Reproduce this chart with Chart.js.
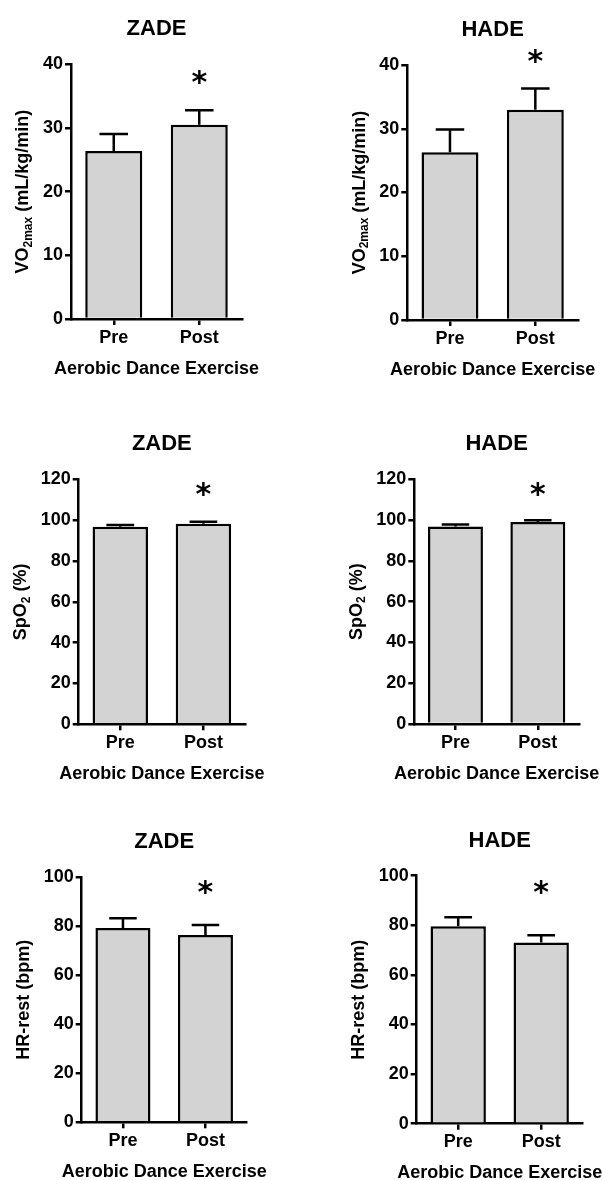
<!DOCTYPE html>
<html>
<head>
<meta charset="utf-8">
<title>Aerobic dance exercise</title>
<script src="https://cdn.jsdelivr.net/npm/chart.js@4.4.1/dist/chart.umd.min.js"></script>
<style>
  body { margin: 0; background: #fff; }
  canvas { position: absolute; }
</style>
</head>
<body>
<canvas id="c0"></canvas>
<canvas id="c1"></canvas>
<canvas id="c2"></canvas>
<canvas id="c3"></canvas>
<canvas id="c4"></canvas>
<canvas id="c5"></canvas>
<script>
// categories
const groups = ["Pre", "Post"];
const xTitle = "Aerobic Dance Exercise";

// means and SD (upper error bar only)
const vo2Zade = [26.4, 30.5];
const vo2ZadeSd = [2.65, 2.3];
const vo2Hade = [26.3, 33.0];
const vo2HadeSd = [3.6, 3.3];
const spo2Zade = [96.7, 98.2];
const spo2ZadeSd = [0.9, 1.0];
const spo2Hade = [96.8, 99.0];
const spo2HadeSd = [1.0, 0.9];
const hrZade = [79.3, 76.4];
const hrZadeSd = [4.0, 4.1];
const hrHade = [79.6, 73.1];
const hrHadeSd = [3.6, 2.9];

// y axes
const yMax = [40, 40, 120, 120, 100, 100];
const yStep = [10, 10, 20, 20, 20, 20];

// where the significance star sits (in axis units), over the Post bar
const starLevel = [38.0, 41.3, 114.8, 114.8, 95.9, 95.3];

const panels = [
  { title: "ZADE", means: vo2Zade, sds: vo2ZadeSd, yLabel: ["VO", "2max", " (mL/kg/min)"] },
  { title: "HADE", means: vo2Hade, sds: vo2HadeSd, yLabel: ["VO", "2max", " (mL/kg/min)"] },
  { title: "ZADE", means: spo2Zade, sds: spo2ZadeSd, yLabel: ["SpO", "2", " (%)"] },
  { title: "HADE", means: spo2Hade, sds: spo2HadeSd, yLabel: ["SpO", "2", " (%)"] },
  { title: "ZADE", means: hrZade, sds: hrZadeSd, yLabel: ["HR-rest (bpm)", "", ""] },
  { title: "HADE", means: hrHade, sds: hrHadeSd, yLabel: ["HR-rest (bpm)", "", ""] },
];

// canvas placement and plot area [left, top, right, bottom] inside each canvas
const boxes = [
  { left: 0, top: 0, w: 300, h: 395, area: [71, 64.3, 242, 319] },
  { left: 300, top: 0, w: 303, h: 395, area: [107.3, 65, 278, 320] },
  { left: 0, top: 400, w: 300, h: 390, area: [78.7, 79.3, 245, 324.3] },
  { left: 300, top: 400, w: 303, h: 390, area: [114.3, 79.3, 279, 324] },
  { left: 0, top: 790, w: 300, h: 390, area: [81.7, 87.3, 246.7, 332.3] },
  { left: 300, top: 790, w: 303, h: 390, area: [116.7, 85.7, 282.7, 333.7] },
];

const FONT = "'Liberation Sans', Arial, sans-serif";
const LINE = 2.5;

function centeredText(ctx, text, x, y) {
  const m = ctx.measureText(text);
  ctx.fillText(text, x, y + (m.actualBoundingBoxAscent - m.actualBoundingBoxDescent) / 2);
}

// error bars, star, and the titles
const annotate = {
  id: "annotate",
  afterDatasetsDraw(chart, args, opts) {
    const ctx = chart.ctx;
    const ys = chart.scales.y;
    const bars = chart.getDatasetMeta(0).data;
    ctx.save();
    ctx.strokeStyle = "#000";
    ctx.lineWidth = LINE;
    bars.forEach((bar, i) => {
      const top = ys.getPixelForValue(opts.means[i] + opts.sds[i]);
      const half = bar.width / 4;
      ctx.beginPath();
      ctx.moveTo(bar.x, bar.y);
      ctx.lineTo(bar.x, top);
      ctx.moveTo(bar.x - half, top);
      ctx.lineTo(bar.x + half, top);
      ctx.stroke();
    });
    // star above Post
    ctx.fillStyle = "#000";
    ctx.textAlign = "center";
    ctx.font = "bold 30px 'DejaVu Sans', sans-serif";
    centeredText(ctx, "*", bars[1].x, ys.getPixelForValue(opts.star));
    ctx.restore();
  },
  afterDraw(chart, args, opts) {
    const ctx = chart.ctx;
    const a = chart.chartArea;
    const cx = (a.left + a.right) / 2;
    ctx.save();
    ctx.fillStyle = "#000";
    ctx.textAlign = "center";

    ctx.font = "bold 22px " + FONT;
    centeredText(ctx, opts.title, cx, a.top - 36.5);

    ctx.font = "bold 18px " + FONT;
    centeredText(ctx, xTitle, cx, a.bottom + 48);

    // y title, rotated, with subscript
    const widest = String(chart.scales.y.max);
    const labelW = ctx.measureText(widest).width;
    const tx = a.left - 8 - labelW - 21;
    const ty = (a.top + a.bottom) / 2;
    const [main, sub, rest] = opts.yLabel;
    const mainFont = "bold 18px " + FONT;
    const subFont = "bold 12px " + FONT;
    ctx.font = mainFont;
    const w1 = ctx.measureText(main).width;
    const w3 = ctx.measureText(rest).width;
    ctx.font = subFont;
    const w2 = ctx.measureText(sub).width;
    const total = w1 + w2 + w3;
    ctx.translate(tx, ty);
    ctx.rotate(-Math.PI / 2);
    ctx.textAlign = "left";
    ctx.textBaseline = "alphabetic";
    const base = 6.4;
    let x = -total / 2;
    ctx.font = mainFont;
    ctx.fillText(main, x, base);
    x += w1;
    ctx.font = subFont;
    ctx.fillText(sub, x, base + 3.5);
    x += w2;
    ctx.font = mainFont;
    ctx.fillText(rest, x, base);
    ctx.restore();
  }
};

panels.forEach((p, i) => {
  const b = boxes[i];
  const canvas = document.getElementById("c" + i);
  canvas.width = b.w;
  canvas.height = b.h;
  canvas.style.left = b.left + "px";
  canvas.style.top = b.top + "px";
  const [aL, aT, aR, aB] = b.area;

  new Chart(canvas, {
    type: "bar",
    data: {
      labels: groups,
      datasets: [{
        data: p.means,
        backgroundColor: "#d3d3d3",
        borderColor: "#000",
        borderWidth: LINE,
        barPercentage: 0.667,
        categoryPercentage: 1
      }]
    },
    options: {
      responsive: false,
      animation: false,
      events: [],
      layout: { padding: { left: 0, top: aT, right: b.w - aR, bottom: 0 } },
      plugins: {
        legend: { display: false },
        tooltip: { enabled: false },
        annotate: { title: p.title, means: p.means, sds: p.sds, star: starLevel[i], yLabel: p.yLabel }
      },
      scales: {
        x: {
          grid: { offset: false, drawOnChartArea: false, drawTicks: true, tickLength: 6, color: "#000", lineWidth: LINE },
          border: { display: true, color: "#000", width: LINE },
          ticks: { color: "#000", padding: 2, font: { family: FONT, size: 18, weight: "bold" } },
          afterFit: (axis) => { axis.height = b.h - aB; }
        },
        y: {
          min: 0,
          max: yMax[i],
          ticks: { stepSize: yStep[i], color: "#000", padding: 2, font: { family: FONT, size: 18, weight: "bold" } },
          grid: { drawOnChartArea: false, drawTicks: true, tickLength: 6, color: "#000", lineWidth: LINE },
          border: { display: true, color: "#000", width: LINE },
          afterFit: (axis) => { axis.width = aL; }
        }
      }
    },
    plugins: [annotate]
  });
});
</script>
</body>
</html>
